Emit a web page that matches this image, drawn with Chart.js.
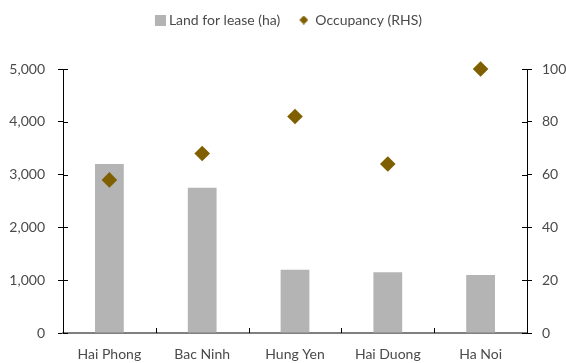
<!DOCTYPE html>
<html>
<head>
<meta charset="utf-8">
<script src="https://cdn.jsdelivr.net/npm/chart.js@4/dist/chart.umd.min.js"></script>
<style>
  html, body { margin: 0; padding: 0; background: #fff; }
  #wrap { width: 566px; height: 363px; }
</style>
</head>
<body>
<div id="wrap"><canvas id="chart"></canvas></div>
<script>
const provinces = ['Hai Phong', 'Bac Ninh', 'Hung Yen', 'Hai Duong', 'Ha Noi'];
const landForLease = [3200, 2750, 1200, 1150, 1100];
const occupancy = [58, 68, 82, 64, 100];
const leftTicks = [0, 1000, 2000, 3000, 4000, 5000];
const rightTicks = [0, 20, 40, 60, 80, 100];

const textColor = '#4a4a4a';
const barColor = '#b4b4b4';
const pointColor = '#7f5f00';
const font = { family: 'Lato', size: 14 };

// legend markers: the mark sits at the right end of a wider canvas
// so it hugs its label text
function marker(width, size, color, diamond) {
    const c = document.createElement('canvas');
    c.width = width;
    c.height = size;
    const g = c.getContext('2d');
    const x0 = width - size;
    g.fillStyle = color;
    if (diamond) {
        g.beginPath();
        g.moveTo(x0 + size / 2, 0);
        g.lineTo(x0 + size, size / 2);
        g.lineTo(x0 + size / 2, size);
        g.lineTo(x0, size / 2);
        g.closePath();
        g.fill();
    } else {
        g.fillRect(x0, 0, size, size);
    }
    return c;
}
const squareMark = marker(26, 11, barColor, false);
const diamondMark = marker(18, 9, pointColor, true);

// short tick marks on the inner side of each axis
const innerTicks = {
    id: 'innerTicks',
    afterDraw(chart) {
        const { ctx, chartArea: a, scales } = chart;
        ctx.save();
        ctx.strokeStyle = '#000';
        ctx.lineWidth = 1;
        ctx.beginPath();
        leftTicks.forEach(v => {
            const y = Math.round(scales.y.getPixelForValue(v)) + 0.5;
            ctx.moveTo(a.left, y);
            ctx.lineTo(a.left + 5, y);
        });
        rightTicks.forEach(v => {
            const y = Math.round(scales.y1.getPixelForValue(v)) + 0.5;
            ctx.moveTo(a.right - 5, y);
            ctx.lineTo(a.right, y);
        });
        for (let i = 1; i < provinces.length; i++) {
            const x = Math.round((scales.x.getPixelForValue(i - 1) + scales.x.getPixelForValue(i)) / 2) + 0.5;
            ctx.moveTo(x, a.bottom);
            ctx.lineTo(x, a.bottom - 5);
        }
        ctx.stroke();
        ctx.restore();
    }
};

// extra room between the legend and the plot
const legendGap = {
    id: 'legendGap',
    beforeInit(chart) {
        const fit = chart.legend.fit;
        chart.legend.fit = function () {
            fit.call(this);
            this.height += 32;
        };
    }
};

new Chart(document.getElementById('chart'), {
    data: {
        labels: provinces,
        datasets: [{
            type: 'line',
            label: 'Occupancy (RHS)',
            data: occupancy,
            yAxisID: 'y1',
            showLine: false,
            clip: false,
            pointStyle: 'rectRot',
            pointRadius: 7.8,
            backgroundColor: pointColor,
            borderColor: pointColor,
            borderWidth: 0,
            order: 0
        }, {
            type: 'bar',
            label: 'Land for lease (ha)',
            data: landForLease,
            yAxisID: 'y',
            backgroundColor: barColor,
            barPercentage: 0.31,
            categoryPercentage: 1,
            order: 1
        }]
    },
    plugins: [innerTicks, legendGap],
    options: {
        responsive: true,
        maintainAspectRatio: false,
        animation: false,
        layout: { padding: { top: 3, right: 0, left: 0, bottom: 0 } },
        plugins: {
            legend: {
                position: 'top',
                reverse: true,
                labels: {
                    usePointStyle: true,
                    pointStyleWidth: 18,
                    color: textColor,
                    font: font,
                    boxHeight: 8,
                    padding: 10,
                    generateLabels(chart) {
                        return chart.data.datasets.map((ds, i) => ({
                            text: ds.label,
                            fillStyle: ds.backgroundColor,
                            strokeStyle: ds.backgroundColor,
                            lineWidth: 0,
                            pointStyle: ds.type === 'bar' ? squareMark : diamondMark,
                            fontColor: textColor,
                            datasetIndex: i
                        }));
                    }
                }
            },
            tooltip: { enabled: false }
        },
        scales: {
            x: {
                grid: { display: false },
                border: { color: '#808080', width: 2 },
                ticks: { color: textColor, font: font, padding: 5 },
                afterFit(s) { s.height = 30; }
            },
            y: {
                position: 'left',
                min: 0,
                max: 5000,
                afterBuildTicks(s) { s.ticks = leftTicks.map(v => ({ value: v })); },
                grid: { drawOnChartArea: false, tickLength: 5, color: '#000' },
                border: { color: '#000', width: 1 },
                ticks: {
                    color: textColor,
                    font: font,
                    padding: 13,
                    callback: v => v.toLocaleString('en-US')
                },
                afterFit(s) { s.width = 63; }
            },
            y1: {
                position: 'right',
                min: 0,
                max: 100,
                afterBuildTicks(s) { s.ticks = rightTicks.map(v => ({ value: v })); },
                grid: { drawOnChartArea: false, tickLength: 5, color: '#000' },
                border: { color: '#000', width: 1 },
                ticks: { color: textColor, font: font, padding: 10 },
                afterFit(s) { s.width = 39; }
            }
        }
    }
});
</script>
</body>
</html>
